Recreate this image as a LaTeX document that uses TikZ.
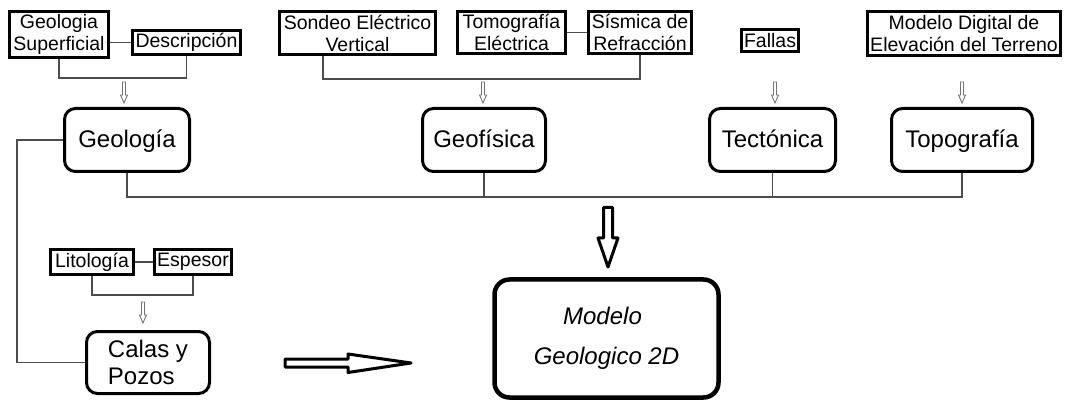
\documentclass[tikz,border=0pt]{standalone}
\usepackage{fontspec}
\setmainfont{Liberation Sans}
\usetikzlibrary{positioning}

\tikzset{
	smallbox/.style={draw, line width=3pt, inner sep=1pt, align=center, font=\fontsize{19.5}{22}\selectfont},
	bigbox/.style={draw, line width=3pt, rounded corners=11pt, inner sep=2pt, align=center, minimum height=63pt, font=\fontsize{24}{27}\selectfont},
	mainbox/.style={bigbox, text height=18pt, text depth=3pt},
	link/.style={draw=black!70, line width=1.2pt},
	thinarrow/.style={draw=black!55, line width=0.9pt, fill=white, line join=miter},
	fatarrow/.style={draw=black, line width=3pt, fill=white, line join=round},
	pics/smalldown/.style={code={
		\draw[thinarrow] (-1.5,0) -- (1.5,0) -- (1.5,13) -- (3.5,13) -- (0,21) -- (-3.5,13) -- (-1.5,13) -- cycle;
	}},
}

\begin{document}
\begin{tikzpicture}[x=1pt,y=-1pt]
	\useasboundingbox (0,0) rectangle (1065,403);
	% inputs
	\node[smallbox, minimum width=99pt, minimum height=46pt] (gsup) at (59,34.5) {Geologia\\Superficial};
	\node[smallbox, minimum width=108pt, minimum height=24pt] (desc) at (186.5,42.5) {Descripción};
	\node[smallbox, minimum width=156pt, minimum height=43pt] (sev) at (357.5,33) {Sondeo Eléctrico\\Vertical};
	\node[smallbox, minimum width=108pt, minimum height=42pt] (tomo) at (511.5,32.5) {Tomografía\\Eléctrica};
	\node[smallbox, minimum width=103pt, minimum height=42pt] (sism) at (640,32.5) {Sísmica de\\Refracción};
	\node[smallbox, minimum width=57pt, minimum height=22pt] (fallas) at (770,40.5) {Fallas};
	\node[smallbox, minimum width=193pt, minimum height=44pt] (mdt) at (964,33.5) {Modelo Digital de\\Elevación del Terreno};
	\node[smallbox, minimum width=83pt, minimum height=25pt] (lito) at (92,262) {Litología};
	\node[smallbox, minimum width=77pt, minimum height=25pt] (esp) at (193,262) {Espesor};
	% main blocks
	\node[mainbox, minimum width=125pt] (geo) at (127,140) {Geología};
	\node[mainbox, minimum width=123pt] (geof) at (484,140) {Geofísica};
	\node[mainbox, minimum width=126pt] (tect) at (772.5,140) {Tectónica};
	\node[mainbox, minimum width=141pt] (topo) at (962,140) {Topografía};
	\node[bigbox, minimum width=123pt, minimum height=62pt, align=left] (calas) at (148,362.5) {Calas y\\Pozos};
	\node[bigbox, line width=4.5pt, rounded corners=15pt, minimum width=224pt, minimum height=118pt, font=\fontsize{24}{27}\selectfont\itshape] (modelo) at (606.5,338.5) {Modelo\hspace*{8pt}\\[13pt]Geologico 2D};

	\coordinate (gbase) at (124,78);
	\coordinate (fbase) at (483,79);
	\coordinate (cbase) at (143,295);
	\coordinate (bus) at (0,197);
	\coordinate (rail) at (17,0);

	\draw[link] (desc.west -| gsup.east) -- (desc.west);
	\draw[link] (gsup.south) |- (gbase) -| (desc.south);
	\draw[link] (tomo.east) -- (sism.west);
	\draw[link] ([xshift=-34.5pt]sev.south) |- (fbase) -| (sism.south);
	\draw[link] (lito.east) -- (esp.west);
	\draw[link] (lito.south) |- (cbase) -| (esp.south);
	\draw[link] (geo.west) -- (geo.west -| rail) |- (calas.west);
	\draw[link] (geo.south) |- (topo.south |- bus) -- (topo.south);
	\draw[link] (geof.south) -- (geof.south |- bus);
	\draw[link] (tect.south) -- (tect.south |- bus);

	% small arrows
	\pic at (124,82) {smalldown};
	\pic at (483,82) {smalldown};
	\pic at (775,82) {smalldown};
	\pic at (962,82) {smalldown};
	\pic at (143,302) {smalldown};

	% big arrows
	\draw[fatarrow] (603.5,207.5) -- (612.5,207.5) -- (612.5,238) -- (618,238) -- (608,267) -- (598,238) -- (603.5,238) -- cycle;
	\draw[fatarrow] (285,359) -- (348,359) -- (348,354) -- (411,363) -- (348,372.5) -- (348,367) -- (285,367) -- cycle;
\end{tikzpicture}
\end{document}
